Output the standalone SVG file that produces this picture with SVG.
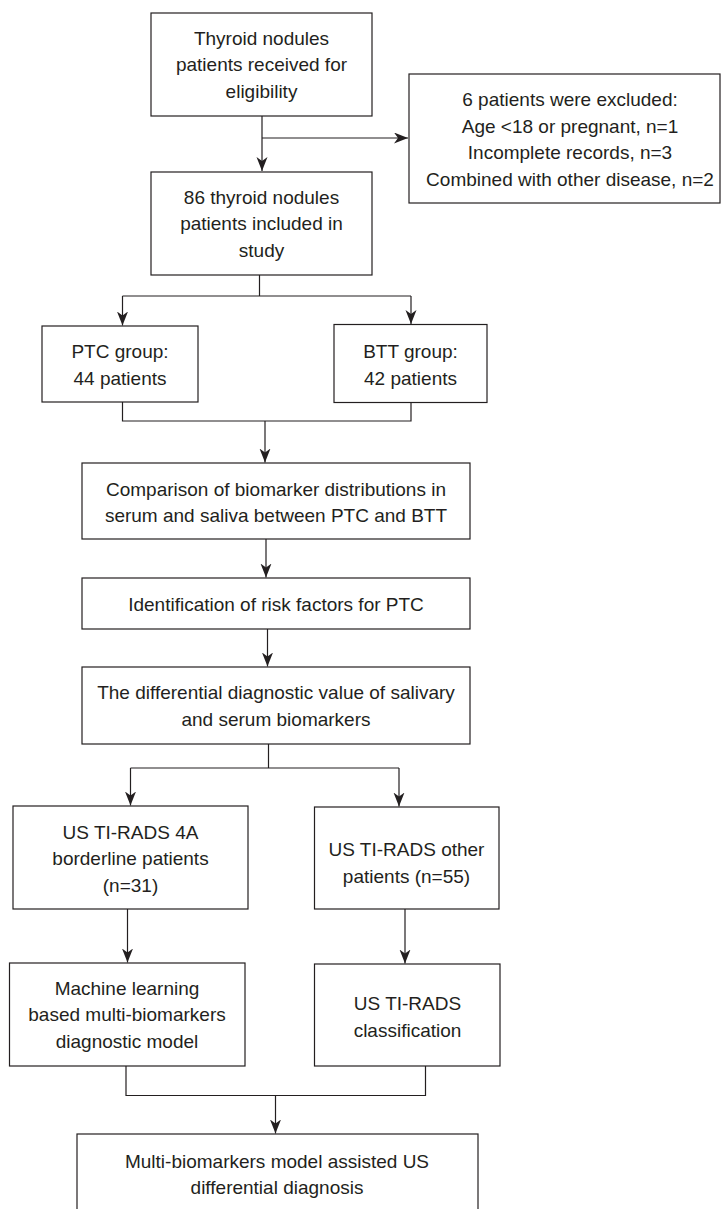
<svg xmlns="http://www.w3.org/2000/svg" width="722" height="1209" viewBox="0 0 722 1209">
<defs>
<style>
.box{fill:#ffffff;stroke:#231f20;stroke-width:1.2}
.t{font-family:"Liberation Sans",Arial,sans-serif;font-size:19px;fill:#231f20;text-anchor:middle}
.c{fill:none;stroke:#231f20;stroke-width:1.2}
</style>
<marker id="ah" markerUnits="userSpaceOnUse" markerWidth="15" markerHeight="12" refX="14" refY="5.5" orient="auto">
<path d="M0,0 L14,5.5 L0,11 L4,5.5 Z" fill="#231f20"/>
</marker>
</defs>
<rect width="722" height="1209" fill="#ffffff"/>
<g id="connectors">
<path class="c" d="M262,116 V171" marker-end="url(#ah)"/>
<path class="c" d="M262,138 H408" marker-end="url(#ah)"/>
<path class="c" d="M259.5,275 V296 M122.5,296 H411"/>
<path class="c" d="M122.5,296 V325.5" marker-end="url(#ah)"/>
<path class="c" d="M411,296 V324" marker-end="url(#ah)"/>
<path class="c" d="M122.5,402 V421 H411 V402.5"/>
<path class="c" d="M265,421 V462.5" marker-end="url(#ah)"/>
<path class="c" d="M266,539 V577.5" marker-end="url(#ah)"/>
<path class="c" d="M267.5,629 V666.5" marker-end="url(#ah)"/>
<path class="c" d="M268.5,744 V768 M130.5,768 H399"/>
<path class="c" d="M130.5,768 V805.5" marker-end="url(#ah)"/>
<path class="c" d="M399,768 V806.5" marker-end="url(#ah)"/>
<path class="c" d="M127.5,909 V962.5" marker-end="url(#ah)"/>
<path class="c" d="M405,909 V963.5" marker-end="url(#ah)"/>
<path class="c" d="M126,1066 V1095.5 H425.5 V1066"/>
<path class="c" d="M275.5,1095.5 V1133.5" marker-end="url(#ah)"/>
</g>
<g id="n1">
<rect class="box" x="151" y="13" width="221" height="103"/>
<text class="t" x="261.5" y="44.5">Thyroid nodules</text>
<text class="t" x="261.5" y="71">patients received for</text>
<text class="t" x="261.5" y="97.5">eligibility</text>
</g>
<g id="excluded">
<rect class="box" x="409" y="74" width="311" height="129"/>
<text class="t" x="570" y="106">6 patients were excluded:</text>
<text class="t" x="570" y="132.5">Age &lt;18 or pregnant, n=1</text>
<text class="t" x="570" y="159">Incomplete records, n=3</text>
<text class="t" x="570" y="185.5">Combined with other disease, n=2</text>
</g>
<g id="n2">
<rect class="box" x="151" y="172" width="221" height="103"/>
<text class="t" x="261.5" y="203.5">86 thyroid nodules</text>
<text class="t" x="261.5" y="230">patients included in</text>
<text class="t" x="261.5" y="256.5">study</text>
</g>
<g id="ptc">
<rect class="box" x="42" y="326" width="156" height="76"/>
<text class="t" x="120" y="358">PTC group:</text>
<text class="t" x="120" y="384.5">44 patients</text>
</g>
<g id="btt">
<rect class="box" x="334" y="324.5" width="153" height="78"/>
<text class="t" x="410.5" y="358">BTT group:</text>
<text class="t" x="410.5" y="384.5">42 patients</text>
</g>
<g id="comparison">
<rect class="box" x="82" y="463" width="388" height="76"/>
<text class="t" x="276" y="496">Comparison of biomarker distributions in</text>
<text class="t" x="276" y="522">serum and saliva between PTC and BTT</text>
</g>
<g id="identification">
<rect class="box" x="82" y="578" width="388" height="51"/>
<text class="t" x="276" y="611">Identification of risk factors for PTC</text>
</g>
<g id="differential">
<rect class="box" x="82" y="667" width="388" height="77"/>
<text class="t" x="276" y="699">The differential diagnostic value of salivary</text>
<text class="t" x="276" y="725.5">and serum biomarkers</text>
</g>
<g id="us4a">
<rect class="box" x="13" y="806" width="235" height="103"/>
<text class="t" x="130.5" y="838.5">US TI-RADS 4A</text>
<text class="t" x="130.5" y="865">borderline patients</text>
<text class="t" x="130.5" y="891.5">(n=31)</text>
</g>
<g id="usother">
<rect class="box" x="314.5" y="807" width="184.5" height="102"/>
<text class="t" x="406.5" y="856">US TI-RADS other</text>
<text class="t" x="406.5" y="882.5">patients (n=55)</text>
</g>
<g id="ml">
<rect class="box" x="9.5" y="963" width="235.5" height="103"/>
<text class="t" x="127" y="994.5">Machine learning</text>
<text class="t" x="127" y="1021">based multi-biomarkers</text>
<text class="t" x="127" y="1047.5">diagnostic model</text>
</g>
<g id="classification">
<rect class="box" x="314.5" y="964" width="185.5" height="102"/>
<text class="t" x="407.5" y="1010">US TI-RADS</text>
<text class="t" x="407.5" y="1036.5">classification</text>
</g>
<g id="final">
<rect class="box" x="77" y="1134" width="401" height="80"/>
<text class="t" x="277" y="1167.5">Multi-biomarkers model assisted US</text>
<text class="t" x="277" y="1194">differential diagnosis</text>
</g>
</svg>
